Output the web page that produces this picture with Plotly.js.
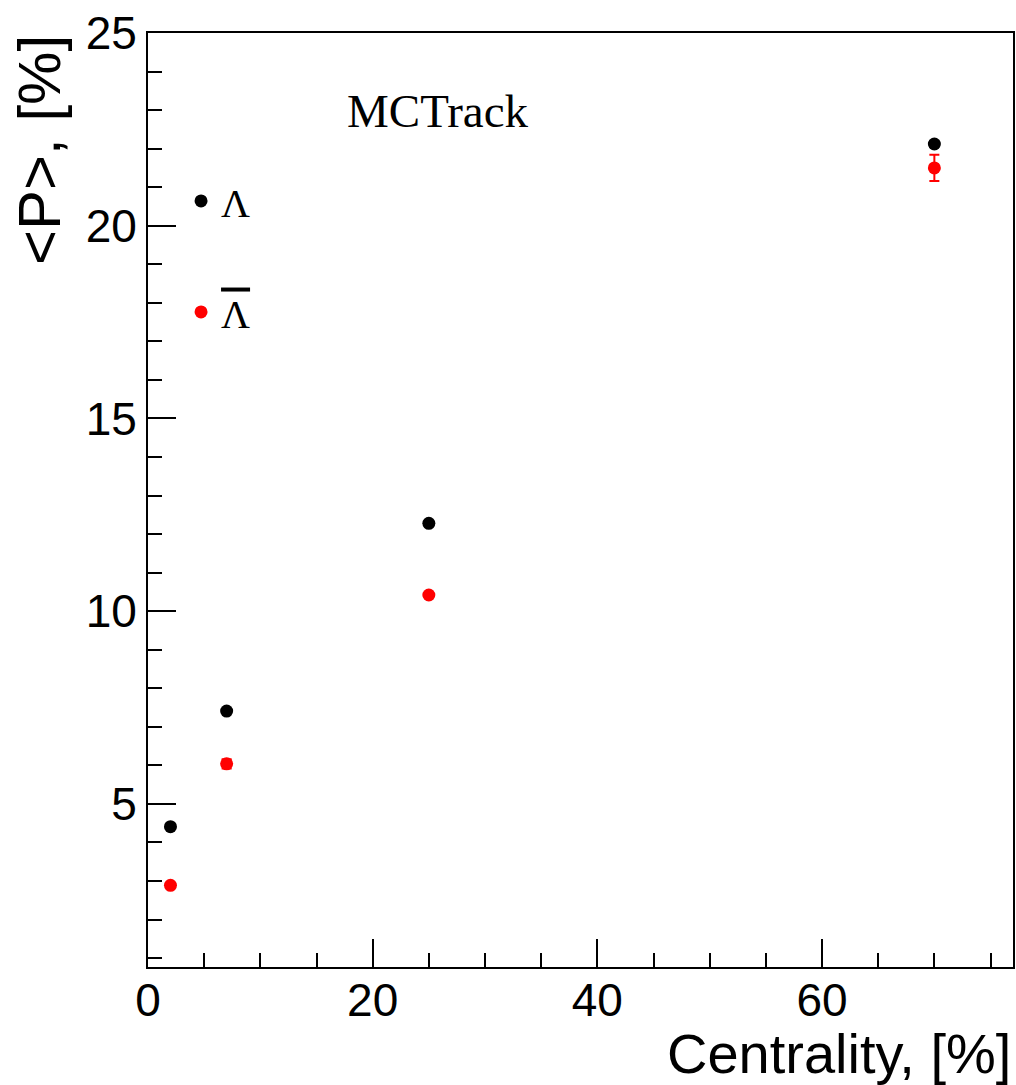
<!DOCTYPE html>
<html>
<head>
<meta charset="utf-8">
<script src="https://cdn.plot.ly/plotly-3.0.1.min.js"></script>
<style>html,body{margin:0;padding:0;background:#fff;}#chart{width:1016px;height:1085px;}</style>
</head>
<body>
<div id="chart"></div>
<script>
const centrality = [2, 7, 25, 70];
const lambdaP = [4.41, 7.41, 12.28, 22.12];
const lambdaErr = [0.05, 0.05, 0.05, 0.08];
const antiLambdaP = [2.89, 6.04, 10.42, 21.5];
const antiLambdaErr = [0.05, 0.12, 0.05, 0.34];
const seriesNames = ['Λ', '<span style="text-decoration:overline">Λ</span>'];

const traces = [
  {
    x: centrality, y: lambdaP, type: 'scatter', mode: 'markers', name: seriesNames[0],
    legendgroup: 'a',
    marker: {color: 'black', size: 13},
    error_y: {type: 'data', array: lambdaErr, visible: true, color: 'black', thickness: 2, width: 5}
  },
  {
    x: centrality, y: antiLambdaP, type: 'scatter', mode: 'markers', name: seriesNames[1],
    legendgroup: 'b',
    marker: {color: 'red', size: 13},
    error_y: {type: 'data', array: antiLambdaErr, visible: true, color: 'red', thickness: 2, width: 5}
  }
];

const tickFont = {family: 'Liberation Sans, Arial, sans-serif', size: 46, color: 'black'};
const layout = {
  width: 1016, height: 1085,
  margin: {l: 148, r: 3, t: 33, b: 118},
  paper_bgcolor: 'white', plot_bgcolor: 'white',
  showlegend: true,
  legend: {
    x: 0.0382, y: 0.855, xanchor: 'left', yanchor: 'top',
    bgcolor: 'rgba(0,0,0,0)', borderwidth: 0,
    font: {family: 'Liberation Serif, Times New Roman, serif', size: 40, color: 'black'},
    traceorder: 'grouped', tracegroupgap: 56
  },
  xaxis: {
    range: [0, 77], dtick: 20, tick0: 0,
    showgrid: false, zeroline: false,
    showline: true, linecolor: 'black', linewidth: 2, mirror: true,
    ticks: 'inside', ticklen: 28, tickwidth: 2, tickcolor: 'black',
    minor: {dtick: 5, ticks: 'inside', ticklen: 14, tickwidth: 2, tickcolor: 'black', showgrid: false},
    tickfont: tickFont, ticklabelstandoff: -8
  },
  yaxis: {
    range: [0.77, 25], dtick: 5, tick0: 0,
    showgrid: false, zeroline: false,
    showline: true, linecolor: 'black', linewidth: 2, mirror: true,
    ticks: 'inside', ticklen: 28, tickwidth: 2, tickcolor: 'black',
    minor: {dtick: 1, ticks: 'inside', ticklen: 14, tickwidth: 2, tickcolor: 'black', showgrid: false},
    tickfont: tickFont
  },
  annotations: [
    {
      text: 'MCTrack', xref: 'paper', yref: 'paper', x: 0.3355, y: 0.916,
      xanchor: 'center', yanchor: 'middle', showarrow: false,
      font: {family: 'Liberation Serif, Times New Roman, serif', size: 47, color: 'black'}
    },
    {
      text: 'Centrality, [%]', xref: 'paper', yref: 'paper', x: 1.0, y: -0.0925,
      xanchor: 'right', yanchor: 'middle', showarrow: false,
      font: {family: 'Liberation Sans, Arial, sans-serif', size: 56, color: 'black'}
    },
    {
      text: '&lt;P&gt;, [%]', xref: 'paper', yref: 'paper', x: -0.126, y: 1.0,
      xanchor: 'center', yanchor: 'top', showarrow: false, textangle: -90,
      font: {family: 'Liberation Sans, Arial, sans-serif', size: 60, color: 'black'}
    }
  ]
};

Plotly.newPlot('chart', traces, layout, {displayModeBar: false, staticPlot: true});
</script>
</body>
</html>
